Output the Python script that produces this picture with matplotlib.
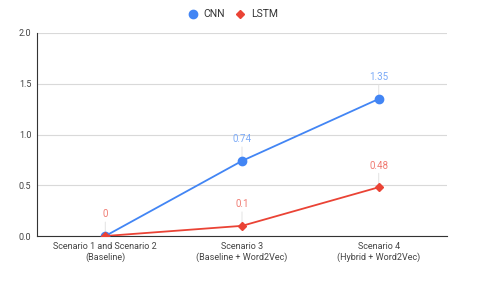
import matplotlib
matplotlib.use("Agg")
import matplotlib.pyplot as plt

categories = ["Scenario 1 and Scenario 2\n(Baseline)",
              "Scenario 3\n(Baseline + Word2Vec)",
              "Scenario 4\n(Hybrid + Word2Vec)"]
cnn = [0, 0.74, 1.35]
lstm = [0, 0.1, 0.48]
cnn_labels = ["", "0.74", "1.35"]
lstm_labels = ["0", "0.1", "0.48"]

plt.rcParams["font.family"] = ["Roboto", "DejaVu Sans"]

fig = plt.figure(figsize=(4.8, 2.86), dpi=100)
ax = fig.add_axes([37 / 480, 1 - 236 / 286, 410 / 480, 203 / 286])

x = list(range(len(categories)))
blue, red = "#4285F4", "#EA4335"
ax.plot(x, cnn, color=blue, marker="o", markersize=6, linewidth=1.3, label="CNN", zorder=3)
ax.plot(x, lstm, color=red, marker="D", markersize=4.5, linewidth=1.3, label="LSTM", zorder=4)

for xi, v, t in zip(x, cnn, cnn_labels):
    if t:
        ax.annotate("", xy=(xi, v), xytext=(0, 12), textcoords="offset points",
                    arrowprops=dict(arrowstyle="-", color="#e6e6e6", lw=0.8), zorder=1)
        ax.annotate(t, (xi, v), xytext=(0, 12), textcoords="offset points",
                    ha="center", va="bottom", fontsize=7, color="#7baaf7")
for xi, v, t in zip(x, lstm, lstm_labels):
    ax.annotate("", xy=(xi, v), xytext=(0, 12), textcoords="offset points",
                arrowprops=dict(arrowstyle="-", color="#e6e6e6", lw=0.8), zorder=1)
    ax.annotate(t, (xi, v), xytext=(0, 12), textcoords="offset points",
                ha="center", va="bottom", fontsize=7, color="#f07b72")

ax.set_xlim(-0.5, 2.5)
ax.set_ylim(0, 2.0)
ax.set_yticks([0, 0.5, 1.0, 1.5, 2.0])
ax.set_yticklabels(["0.0", "0.5", "1.0", "1.5", "2.0"])
ax.set_xticks(x)
ax.set_xticklabels(categories)
ax.tick_params(axis="both", length=0, labelsize=6.5, colors="#444444", pad=4)
ax.grid(axis="y", color="#d9d9d9", linewidth=0.8)
ax.set_axisbelow(True)
for s in ["top", "right"]:
    ax.spines[s].set_visible(False)
ax.spines["left"].set_color("#333333")
ax.spines["bottom"].set_color("#333333")
ax.spines["left"].set_linewidth(0.8)
ax.spines["bottom"].set_linewidth(0.8)

leg = fig.legend(loc="upper center", bbox_to_anchor=(0.485, 1.0), ncol=2, frameon=False,
                 fontsize=7.5, handlelength=1.0, columnspacing=1.0, handletextpad=0.5,
                 labelcolor="#333333")
for line in leg.get_lines():
    line.set_linestyle("")

fig.savefig("out.png", dpi=100)
